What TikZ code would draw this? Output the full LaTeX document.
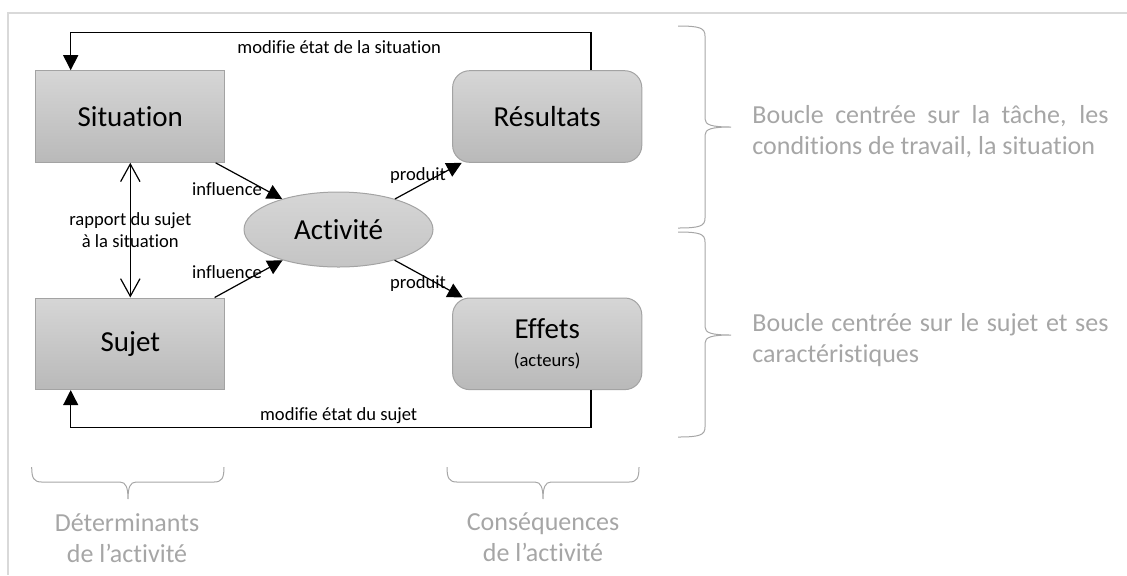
\documentclass[tikz,border=0pt]{standalone}
\usepackage{fontspec}
\setmainfont{Carlito}[Ligatures=CommonOff]
\usetikzlibrary{arrows.meta,shapes.geometric}

\definecolor{boxtop}{HTML}{D6D6D6}
\definecolor{boxbot}{HTML}{B9B9B9}
\definecolor{boxline}{HTML}{A3A3A3}
\definecolor{greytext}{HTML}{A6A6A6}
\definecolor{sheetline}{HTML}{D9D9D9}

\newcommand{\boxfont}{\fontsize{14.5}{17}\selectfont}
\newcommand{\lblfont}{\fontsize{9.3}{11.2}\selectfont}
\newcommand{\greyfont}{\fontsize{13}{15.5}\selectfont}

\begin{document}
\begin{tikzpicture}[x=0.5pt, y=-0.5pt, >={Triangle[length=7.5pt,width=7.5pt]},
  box/.style={draw=boxline, line width=0.5pt, top color=boxtop, bottom color=boxbot,
    minimum width=94.6pt, minimum height=45.8pt, inner sep=0pt, font=\boxfont},
  roundbox/.style={box, rounded corners=8.5pt},
  activity/.style={ellipse, draw=boxline, line width=0.5pt, top color=boxtop,
    bottom color=boxbot!60!boxtop, minimum width=94.5pt, minimum height=37.5pt,
    inner sep=0pt, font=\boxfont},
  link/.style={->, line width=0.6pt},
  twoway/.style={{Straight Barb[length=8.8pt,width=9.7pt]}-{Straight Barb[length=8.8pt,width=9.7pt]},
    line width=0.6pt},
  lbl/.style={font=\lblfont, inner sep=1pt},
  greybrace/.style={draw=greytext, line width=0.5pt},
  greynote/.style={font=\greyfont, text=greytext, inner sep=0pt},
  sheet/.style={draw=sheetline, line width=0.75pt}]

\useasboundingbox (0,0) rectangle (1127,575);
\draw [sheet] (1127,13) -- (8,13) -- (8,575);

% Les blocs

\node [box] (sit) at (130.3,116.5) {Situation};
\node [box] (suj) at (130.3,343.8) {Sujet};
\node [roundbox] (res) at (547.2,116.5) {Résultats};
\node [roundbox, align=center] (eff) at (547.2,343.8) {Effets\\[-3pt]{\lblfont (acteurs)}};
\node [activity] (act) at (338.5,229.5) {Activité};

% Les flèches

\draw [link] (sit) -- (act);
\draw [link] (suj) -- (act);
\draw [link] (act) -- (res);
\draw [link] (act) -- (eff);

\draw [twoway] (sit) -- node [lbl, align=center] (rap) {rapport du sujet\\à la situation} (suj);

\foreach \n/\t/\x/\y in {inf1/influence/227/189, inf2/influence/227/271.7,
                        prod1/produit/418/175.7, prod2/produit/418/283.3}
  \node [lbl] (\n) at (\x,\y) {\t};

% Les boucles de retour

\coordinate (tr) at (591,32.7);
\coordinate (tl) at (70.7,32.7);
\coordinate (br) at (591,427.7);
\coordinate (bl) at (70.7,427.7);

\draw [link] (res.north -| tr) -- (tr)
  -- node [lbl, below=2.5pt, pos=0.484] (mod1) {modifie état de la situation} (tl)
  -- (sit.north -| tl);
\draw [link] (eff.south -| br) -- (br)
  -- node [lbl, above=0.5pt, pos=0.485] (mod2) {modifie état du sujet} (bl)
  -- (suj.south -| bl);

% Les accolades

\foreach \t/\m/\b in {26/127/228, 232/335/437}
  \draw [greybrace] (678,\t) .. controls (700,\t) and (705,\t+2) .. (705,\t+10)
    -- (705,\m-8) .. controls (705,\m-2) and (712,\m) .. (731,\m)
    .. controls (712,\m) and (705,\m+2) .. (705,\m+8)
    -- (705,\b-10) .. controls (705,\b-2) and (700,\b) .. (678,\b);

\foreach \l/\c/\r in {31.7/128/224, 447/543/639}
  \draw [greybrace] (\l,467) .. controls (\l,478) and (\l+2,482) .. (\l+10,482)
    -- (\c-8,482) .. controls (\c-2,482) and (\c,488) .. (\c,499)
    .. controls (\c,488) and (\c+2,482) .. (\c+8,482)
    -- (\r-10,482) .. controls (\r-2,482) and (\r,478) .. (\r,467);

% Les textes gris

\node [greynote, text width=178pt, align=justify, anchor=west] (loop1) at (752,132)
  {Boucle centrée sur la tâche, les conditions de travail, la situation};
\node [greynote, text width=178pt, align=justify, anchor=west] (loop2) at (752,340)
  {Boucle centrée sur le sujet et ses caractéristiques};

\node [greynote, align=center] (det) at (127,538) {Déterminants\\de l’activité};
\node [greynote, align=center] (cons) at (543,537) {Conséquences\\de l’activité};

\end{tikzpicture}
\end{document}
